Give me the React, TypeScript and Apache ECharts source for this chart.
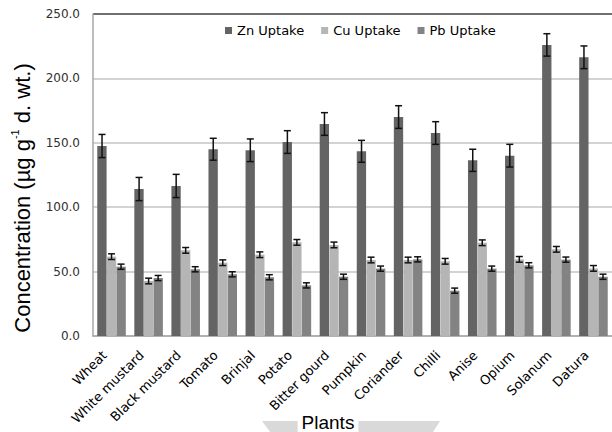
import React, { useEffect, useRef } from "react";
import * as echarts from "echarts";

const categories = [
  "Wheat", "White mustard", "Black mustard", "Tomato", "Brinjal", "Potato",
  "Bitter gourd", "Pumpkin", "Coriander", "Chilli", "Anise", "Opium", "Solanum", "Datura",
];
const seriesNames = ["Zn Uptake", "Cu Uptake", "Pb Uptake"];
const znValues = [147.5, 114.1, 116.5, 145.0, 144.2, 150.6, 164.6, 143.4, 170.0, 157.6, 136.4, 140.0, 226.0, 216.4];
const znErrors = [9.0, 9.0, 9.0, 8.5, 8.8, 8.8, 8.8, 8.5, 8.8, 8.8, 8.6, 8.8, 8.7, 8.8];
const cuValues = [61.6, 42.7, 66.5, 56.9, 63.1, 72.7, 70.7, 59.0, 59.0, 58.0, 72.4, 59.5, 67.3, 52.5];
const cuErrors = [2.2, 2.2, 2.2, 2.2, 2.2, 2.2, 2.2, 2.2, 2.2, 2.2, 2.2, 2.2, 2.2, 2.2];
const pbValues = [53.8, 45.0, 51.8, 47.9, 45.6, 39.3, 46.0, 52.3, 59.5, 35.2, 52.3, 54.9, 59.3, 46.0];
const pbErrors = [2.0, 2.0, 2.0, 2.0, 2.0, 2.0, 2.0, 2.0, 2.0, 2.0, 2.0, 2.0, 2.0, 2.0];
const yTicks = { min: 0, max: 250, interval: 50 };

const colors = ["#646464", "#b5b5b5", "#838383"];
const CAT_GAP = 0.23;

function errorSeries(values: number[], errors: number[], idx: number) {
  return {
    type: "custom",
    silent: true,
    z: 10,
    renderItem: (params: any, api: any) => {
      const x = api.value(0);
      const lo = api.value(1);
      const hi = api.value(2);
      const band = api.size([1, 0])[0];
      const groupW = band * (1 - CAT_GAP);
      const bw = groupW / 3;
      const p0 = api.coord([x, lo]);
      const p1 = api.coord([x, hi]);
      const cx = p0[0] - groupW / 2 + bw * (idx + 0.5);
      const cap = 3.5;
      const st = { stroke: "#111", lineWidth: 1.5 };
      return {
        type: "group",
        children: [
          { type: "line", shape: { x1: cx, y1: p0[1], x2: cx, y2: p1[1] }, style: st },
          { type: "line", shape: { x1: cx - cap, y1: p1[1], x2: cx + cap, y2: p1[1] }, style: st },
          { type: "line", shape: { x1: cx - cap, y1: p0[1], x2: cx + cap, y2: p0[1] }, style: st },
        ],
      };
    },
    encode: { x: 0, y: [1, 2] },
    data: values.map((v, i) => [i, v - errors[i], v + errors[i]]),
  };
}

export default function App() {
  const ref = useRef<HTMLDivElement>(null);
  useEffect(() => {
    document.body.style.margin = "0";
    const chart = echarts.init(ref.current!, null, { renderer: "svg" });
    const barBase = {
      type: "bar",
      barGap: "3%",
      barCategoryGap: CAT_GAP * 100 + "%",
    };
    chart.setOption({
      animation: false,
      backgroundColor: "#ffffff",
      grid: { left: 93, top: 14, width: 529, height: 322, containLabel: false },
      legend: {
        data: seriesNames,
        left: 220,
        top: 19,
        icon: "rect",
        itemWidth: 7,
        itemHeight: 7,
        itemGap: 17,
        textStyle: { fontFamily: "DejaVu Sans", fontSize: 13, color: "#000" },
      },
      xAxis: {
        type: "category",
        data: categories,
        axisLine: { lineStyle: { color: "#a6a6a6", width: 1.5 } },
        axisTick: { show: false },
        axisLabel: {
          interval: 0,
          rotate: 45,
          margin: 10,
          padding: [0, 10, 0, 0],
          fontFamily: "DejaVu Sans",
          fontSize: 13,
          color: "#000",
        },
      },
      yAxis: {
        type: "value",
        min: yTicks.min,
        max: yTicks.max,
        interval: yTicks.interval,
        axisLine: { show: true, lineStyle: { color: "#a6a6a6", width: 1.5 } },
        axisTick: { show: false },
        axisLabel: {
          formatter: (v: number) => v.toFixed(1),
          margin: 13,
          fontFamily: "DejaVu Sans",
          fontSize: 12,
          color: "#303030",
        },
        splitLine: {
          lineStyle: {
            color: ["#c4c4c4", "#c4c4c4", "#c4c4c4", "#c4c4c4", "#c4c4c4", "#404040"],
            width: 1.5,
          },
        },
      },
      series: [
        { ...barBase, name: seriesNames[0], data: znValues, itemStyle: { color: colors[0] } },
        { ...barBase, name: seriesNames[1], data: cuValues, itemStyle: { color: colors[1] } },
        { ...barBase, name: seriesNames[2], data: pbValues, itemStyle: { color: colors[2] } },
        errorSeries(znValues, znErrors, 0),
        errorSeries(cuValues, cuErrors, 1),
        errorSeries(pbValues, pbErrors, 2),
      ],
      graphic: [
        {
          type: "text",
          x: 22,
          y: 198,
          rotation: Math.PI / 2,
          style: {
            text: "{a|Concentration (µg g}{s|-1}{a| d. wt.)}",
            align: "center",
            verticalAlign: "middle",
            rich: {
              a: { fontFamily: "Liberation Sans", fontSize: 22, lineHeight: 26, fill: "#000" },
              s: { fontFamily: "Liberation Sans", fontSize: 11, lineHeight: 26, verticalAlign: "top", fill: "#000" },
            },
          },
        },
        {
          type: "polygon",
          shape: { points: [[262, 421], [440, 421], [428, 440], [276, 440]] },
          style: { fill: "#d9d9d9" },
          z: 1,
        },
        {
          type: "text",
          x: 328,
          y: 422,
          z: 2,
          style: {
            text: "Plants",
            align: "center",
            verticalAlign: "middle",
            fontFamily: "Liberation Sans",
            fontSize: 19,
            fill: "#000",
            backgroundColor: "#fff",
            padding: [2, 4, 6, 4],
          },
        },
      ],
    });
    return () => chart.dispose();
  }, []);
  return (
    <div
      ref={ref}
      style={{ position: "fixed", left: 0, top: 0, width: 612, height: 432 }}
    />
  );
}
